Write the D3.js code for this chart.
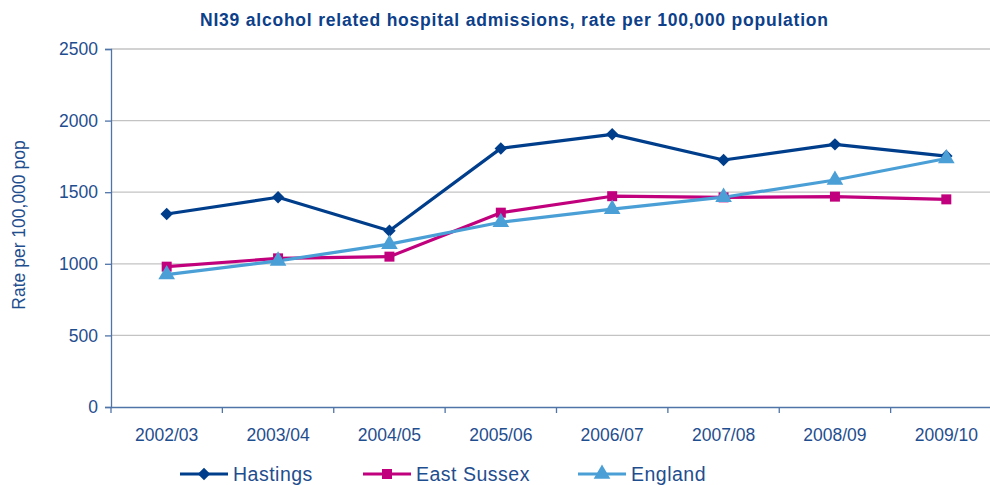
<!DOCTYPE html>
<html>
<head>
<meta charset="utf-8">
<script src="https://cdn.jsdelivr.net/npm/d3@7"></script>
<style>
  html, body { margin: 0; padding: 0; background: #fff; }
  svg { display: block; font-family: "Liberation Sans", Arial, sans-serif; }
</style>
</head>
<body>
<svg id="chart" width="990" height="485"></svg>
<script>
// Financial years on the x axis
const years = ["2002/03", "2003/04", "2004/05", "2005/06", "2006/07", "2007/08", "2008/09", "2009/10"];

// Admissions rate per 100,000 population
const hastings   = [1348, 1465, 1231, 1806, 1904, 1725, 1834, 1752];
const eastSussex = [980, 1038, 1050, 1357, 1472, 1464, 1469, 1450];
const england    = [925, 1020, 1137, 1290, 1382, 1465, 1585, 1735];

const yTicks = [0, 500, 1000, 1500, 2000, 2500];

const seriesNames = ["Hastings", "East Sussex", "England"];
const seriesColors = ["#003e8c", "#c0007c", "#4a9fd6"];
// diamond = square turned 45 degrees
const seriesShapes = [d3.symbolSquare, d3.symbolSquare, d3.symbolTriangle];
const seriesRotate = [45, 0, 0];
const symbolSizes = [78, 100, 120];

const series = [hastings, eastSussex, england].map((vals, i) => ({
  name: seriesNames[i], color: seriesColors[i], shape: seriesShapes[i],
  rotate: seriesRotate[i], size: symbolSizes[i],
  values: vals.map((v, j) => ({ year: years[j], value: v }))
}));

const textColor = "#1f4e8f";
const axisColor = "#4f74a8";

const svg = d3.select("#chart");
const plotLeft = 111, plotRight = 1002, plotTop = 49, plotBottom = 407;

const x = d3.scaleBand().domain(years).range([plotLeft, plotRight]);
const y = d3.scaleLinear().domain([0, 2500]).range([plotBottom, plotTop]);

// Horizontal gridlines
svg.append("g")
  .selectAll("line")
  .data(yTicks.filter(t => t > 0))
  .join("line")
  .attr("x1", plotLeft).attr("x2", 990)
  .attr("y1", d => y(d)).attr("y2", d => y(d))
  .attr("stroke", "#c3c3c3").attr("stroke-width", 1.3);

// Y axis
const yAxis = svg.append("g")
  .attr("transform", `translate(${plotLeft},0)`)
  .call(d3.axisLeft(y).tickValues(yTicks).tickSize(6).tickPadding(7).tickFormat(d3.format("d")));
yAxis.select(".domain").attr("stroke", axisColor).attr("stroke-width", 1.3);
yAxis.selectAll(".tick line").attr("stroke", axisColor).attr("stroke-width", 1.3);
yAxis.selectAll(".tick text")
  .attr("fill", textColor).style("font-size", "17.5px")
  .attr("font-family", "Liberation Sans, Arial, sans-serif");

// X axis with ticks between categories
const xAxis = svg.append("g")
  .attr("transform", `translate(0,${plotBottom})`)
  .call(d3.axisBottom(x).tickSize(0).tickPadding(22));
xAxis.select(".domain").attr("stroke", axisColor).attr("stroke-width", 1.5);
xAxis.selectAll(".tick text")
  .attr("fill", textColor).style("font-size", "17.5px")
  .attr("font-family", "Liberation Sans, Arial, sans-serif");
svg.append("g")
  .selectAll("line")
  .data(years.map(d => x(d)).concat([x(years[years.length - 1]) + x.bandwidth()]))
  .join("line")
  .attr("x1", d => d).attr("x2", d => d)
  .attr("y1", plotBottom).attr("y2", plotBottom + 6)
  .attr("stroke", axisColor).attr("stroke-width", 1.3);

// Lines and markers
const line = d3.line()
  .x(d => x(d.year) + x.bandwidth() / 2)
  .y(d => y(d.value));

series.forEach(s => {
  svg.append("path")
    .datum(s.values)
    .attr("fill", "none")
    .attr("stroke", s.color)
    .attr("stroke-width", 3.2)
    .attr("stroke-linejoin", "round")
    .attr("d", line);
});
series.forEach(s => {
  svg.append("g")
    .selectAll("path")
    .data(s.values)
    .join("path")
    .attr("d", d3.symbol().type(s.shape).size(s.size))
    .attr("transform", d => `translate(${x(d.year) + x.bandwidth() / 2},${y(d.value)}) rotate(${s.rotate})`)
    .attr("fill", s.color);
});

// Title
svg.append("text")
  .attr("x", 514).attr("y", 26)
  .attr("text-anchor", "middle")
  .attr("fill", "#0d3f8a")
  .style("font-size", "17.5px")
  .style("font-weight", "bold")
  .attr("textLength", 628)
  .attr("lengthAdjust", "spacing")
  .text("NI39 alcohol related hospital admissions, rate per 100,000 population");

// Y axis title
svg.append("text")
  .attr("transform", "translate(25,225) rotate(-90)")
  .attr("text-anchor", "middle")
  .attr("fill", textColor)
  .style("font-size", "17.5px")
  .text("Rate per 100,000 pop");

// Legend
const legendX = [180, 363, 578];
const legend = svg.append("g");
series.forEach((s, i) => {
  const g = legend.append("g").attr("transform", `translate(${legendX[i]},474)`);
  g.append("line").attr("x1", 0).attr("x2", 48).attr("y1", 0).attr("y2", 0)
    .attr("stroke", s.color).attr("stroke-width", 3.2);
  g.append("path").attr("d", d3.symbol().type(s.shape).size(s.size)())
    .attr("transform", `translate(24,0) rotate(${s.rotate})`).attr("fill", s.color);
  g.append("text").attr("x", 53).attr("y", 6.5)
    .attr("fill", textColor).style("font-size", "19.5px")
    .style("letter-spacing", "0.5px")
    .text(s.name);
});
</script>
</body>
</html>
